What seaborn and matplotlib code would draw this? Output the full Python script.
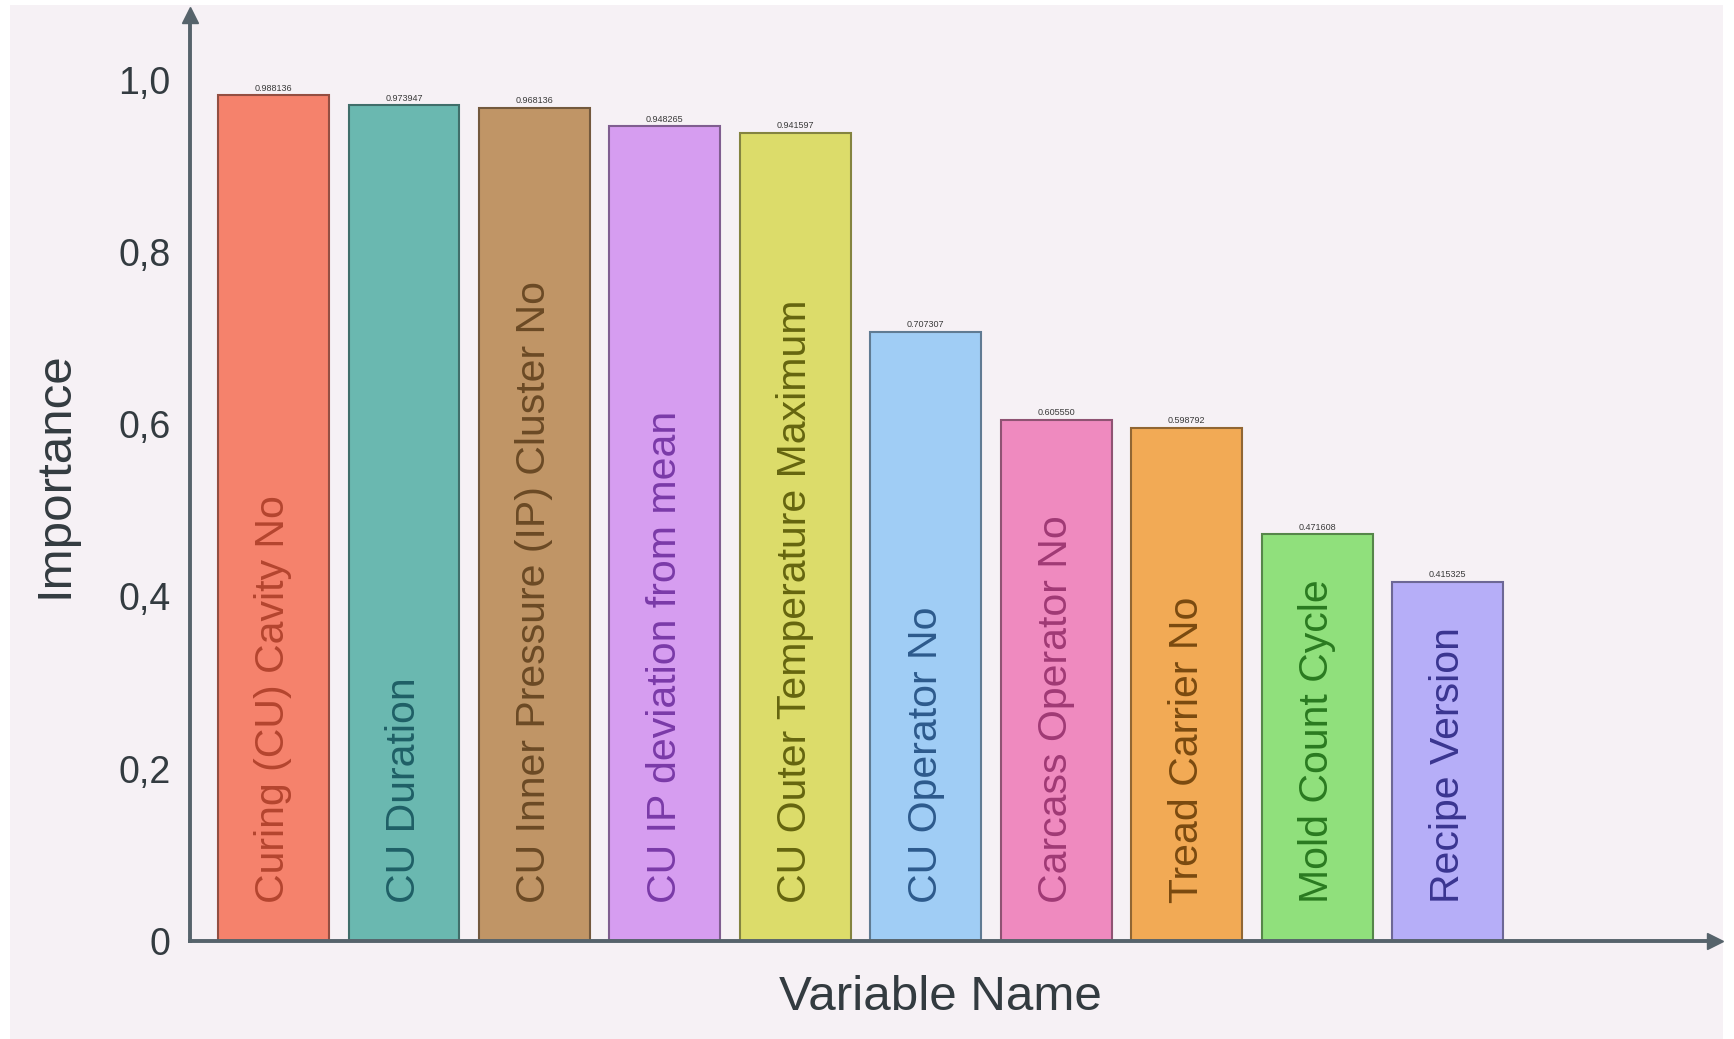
import numpy as np
import pandas as pd
import matplotlib
matplotlib.use("Agg")
import matplotlib.pyplot as plt
import seaborn as sns
from matplotlib.colors import to_rgb

# Data
variables = ["Curing (CU) Cavity No", "CU Duration", "CU Inner Pressure (IP) Cluster No",
             "CU IP deviation from mean", "CU Outer Temperature Maximum", "CU Operator No",
             "Carcass Operator No", "Tread Carrier No", "Mold Count Cycle", "Recipe Version"]
importance = [0.982, 0.970, 0.967, 0.946, 0.938, 0.707, 0.605, 0.596, 0.472, 0.417]
value_labels = ["0.988136", "0.973947", "0.968136", "0.948265", "0.941597",
                "0.707307", "0.605550", "0.598792", "0.471608", "0.415325"]
y_ticks = [0, 0.2, 0.4, 0.6, 0.8, 1.0]
y_ticklabels = ["0", "0,2", "0,4", "0,6", "0,8", "1,0"]

bar_colors = ["#f5826c", "#6ab8b0", "#c09566", "#d69df0", "#dcdc6a",
              "#a0cdf5", "#ef8abf", "#f2aa55", "#90e07c", "#b6aef8"]
text_colors = ["#b4452f", "#1f5f66", "#6b4a25", "#7a3aa8", "#65650f",
               "#2d5a8c", "#a03a75", "#7a4a10", "#2a7a20", "#3a3590"]

bg = "#f6f1f5"
axis_col = "#56636b"

df = pd.DataFrame({"Variable": variables, "Importance": importance})

sns.set_theme(style="white")
plt.rcParams["font.family"] = ["Liberation Sans", "DejaVu Sans"]

fig = plt.figure(figsize=(17.34, 10.39), dpi=100)
fig.patch.set_facecolor("white")
fig.patches.append(plt.Rectangle((10 / 1734, 0), 1713 / 1734, 1034 / 1039,
                                 transform=fig.transFigure, facecolor=bg,
                                 edgecolor="none", zorder=-10))
ax = fig.add_axes([190 / 1734, 98 / 1039, (1715 - 190) / 1734, (1024 - 98) / 1039])
ax.set_facecolor("none")

sns.barplot(data=df, x="Variable", y="Importance", hue="Variable",
            palette=bar_colors, legend=False, width=0.85, saturation=1, ax=ax)

for patch, c in zip(ax.patches, bar_colors):
    r, g, b = to_rgb(c)
    patch.set_edgecolor((r * 0.6, g * 0.6, b * 0.6))
    patch.set_linewidth(1.5)

for i, (name, v, lab) in enumerate(zip(variables, importance, value_labels)):
    ax.text(i, 0.044, name, rotation=90, ha="center", va="bottom",
            fontsize=29.5, color=text_colors[i])
    ax.text(i, v + 0.003, lab, ha="center", va="bottom", fontsize=6.5, color="#3a3a3a")

ax.set_xlim(-0.64, 11.05)
ax.set_ylim(0, 1.075)
ax.set_xticks([])
ax.set_yticks(y_ticks)
ax.set_yticklabels(y_ticklabels, fontsize=27, color="#333b40")
ax.tick_params(axis="y", length=0, pad=14)

for s in ["top", "right"]:
    ax.spines[s].set_visible(False)
for s in ["left", "bottom"]:
    ax.spines[s].set_color(axis_col)
    ax.spines[s].set_linewidth(2.8)
    ax.spines[s].set_zorder(5)

# arrow heads
ax.plot(1, 0, ">", color=axis_col, markersize=12, transform=ax.transAxes, clip_on=False, zorder=6)
ax.plot(0, 1, "^", color=axis_col, markersize=12, transform=ax.transAxes, clip_on=False, zorder=6)

ax.set_xlabel("Variable Name", fontsize=35.5, color="#333b40")
ax.set_ylabel("Importance", fontsize=35.5, color="#333b40")
w_px, h_px = 1715 - 190, 1024 - 98
ax.xaxis.set_label_coords((940 - 190) / w_px, -(975 - 941) / h_px)
ax.yaxis.set_label_coords(-(190 - 77) / w_px, (941 - 475) / h_px)

fig.savefig("out.png", dpi=100, facecolor=fig.get_facecolor())
